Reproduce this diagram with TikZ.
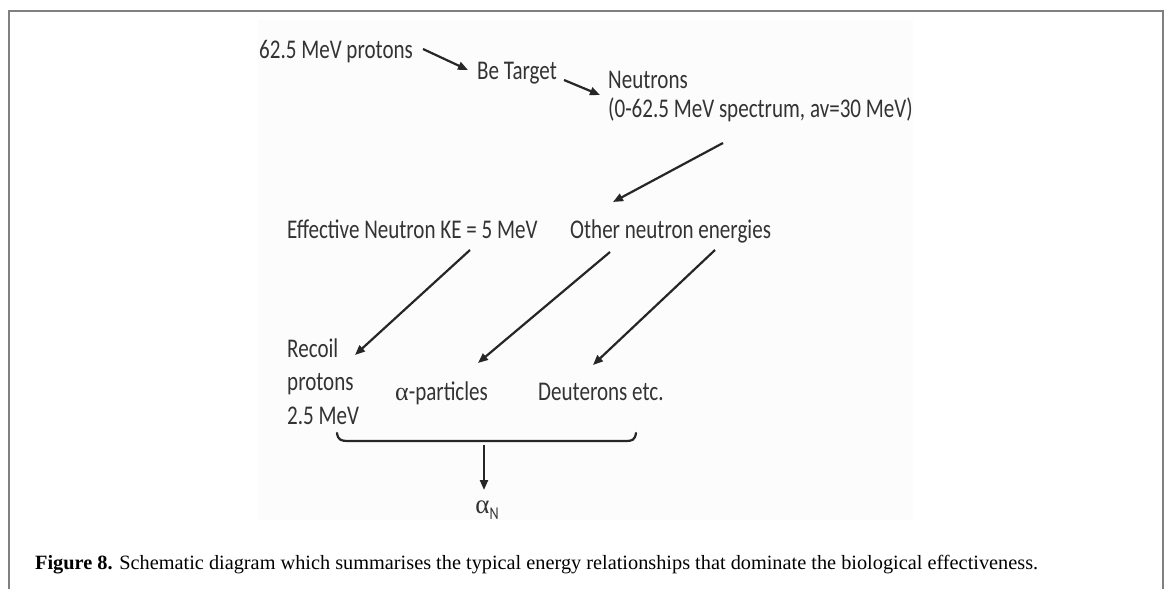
\documentclass[tikz,border=0pt]{standalone}
\usepackage{fontspec}
\setmainfont{Liberation Serif}
\newfontfamily\diag[FakeStretch=0.78]{Carlito}
\newfontfamily\greek{Liberation Serif}
\usetikzlibrary{arrows.meta}
\definecolor{txt}{HTML}{333333}
\definecolor{frame}{HTML}{808080}
\tikzset{
  lbl/.style={inner sep=0pt, anchor=base west, text=txt, font=\diag\fontsize{27}{31}\selectfont},
  arr/.style={draw=black!85, line width=2.2pt, -{Triangle[length=10pt,width=8pt]}},
}
\begin{document}
\begin{tikzpicture}[x=1pt,y=-1pt]
\useasboundingbox (0,0) rectangle (1171,589);
\fill[black!1] (258,20) rectangle (913,520);
\draw[frame, line width=1.5pt] (9,589) -- (9,11) -- (1163,11) -- (1163,589);

\node[lbl] (protons) at (259,58) {62.5 MeV protons};
\node[lbl] (target) at (477,79) {Be Target};
\node[lbl] (neutrons) at (608,88) {Neutrons};
\node[lbl] (spectrum) at (608,117) {(0-62.5 MeV spectrum, av=30 MeV)};
\node[lbl] (effective) at (287,238) {Effective Neutron KE = 5 MeV};
\node[lbl] (other) at (570,238) {Other neutron energies};
\node[lbl] (recoil) at (287,357) {Recoil};
\node[lbl] (protons2) at (287,390) {protons};
\node[lbl] (mev) at (287,424) {2.5 MeV};
\node[lbl] (alpha) at (395,400) {{\greek\fontsize{26}{30}\selectfont α}-particles};
\node[lbl] (deut) at (538,400) {Deuterons etc.};
\node[inner sep=0pt, text=txt] (alphaN) at (487,510) {{\greek\fontsize{27}{30}\selectfont α}\raisebox{-6pt}{\diag\fontsize{18}{20}\selectfont N}};

\coordinate (a1s) at (423,49); \coordinate (a1e) at (468,70);
\coordinate (a2s) at (564,80); \coordinate (a2e) at (600,95);
\coordinate (a3s) at (723,143); \coordinate (a3e) at (613,202);
\coordinate (a4s) at (470,250); \coordinate (a4e) at (355,355);
\coordinate (a5s) at (610,252); \coordinate (a5e) at (478,363);
\coordinate (a6s) at (715,250); \coordinate (a6e) at (593,365);
\coordinate (a7s) at (484,445); \coordinate (a7e) at (484,490);

\draw[arr] (a1s) -- (a1e);
\draw[arr] (a2s) -- (a2e);
\draw[arr] (a3s) -- (a3e);
\draw[arr] (a4s) -- (a4e);
\draw[arr] (a5s) -- (a5e);
\draw[arr] (a6s) -- (a6e);
\draw[arr] (a7s) -- (a7e);

\draw[black!85, line width=2.2pt, line cap=round]
  (337,433) .. controls (338,440) and (341,441) .. (348,441) -- (626,441)
  .. controls (632,441) and (635,440) .. (636,433);

\node[inner sep=0pt, anchor=base west, font=\fontsize{20.3}{24}\selectfont] (caption) at (35,569)
  {\textbf{Figure 8.} Schematic diagram which summarises the typical energy relationships that dominate the biological effectiveness.};
\end{tikzpicture}
\end{document}
